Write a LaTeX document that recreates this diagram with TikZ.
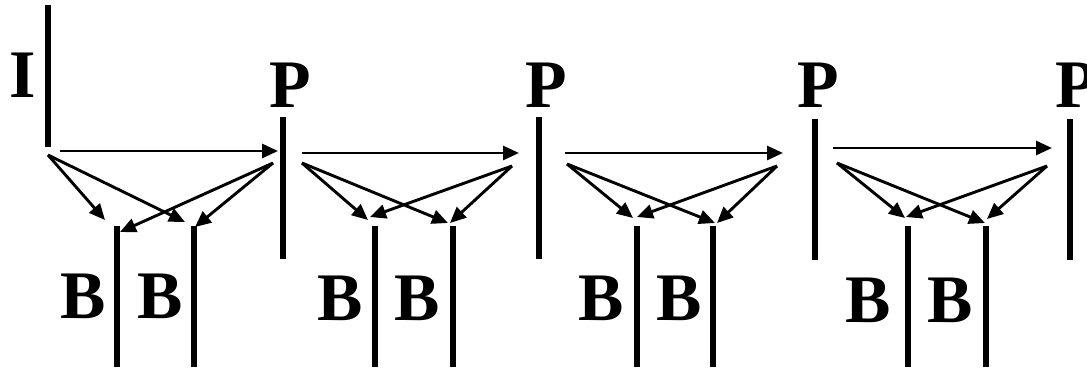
\documentclass[tikz,border=0pt]{standalone}
\usepackage{fontspec}
\setmainfont{Liberation Serif}
\usetikzlibrary{arrows.meta}
\begin{document}
\begin{tikzpicture}[x=1pt,y=-1pt,
  framebar/.style={line width=5.5pt},
  link/.style={line width=2.9pt,-{Triangle[length=16pt,width=14pt]}},
  lbl/.style={font=\fontsize{68}{68}\selectfont\bfseries, inner sep=0pt, anchor=base},
]
\useasboundingbox (0,0) rectangle (1087,370);
% frame bars
\coordinate (It) at (48,5);    \coordinate (Ib) at (48,147);
\coordinate (P1t) at (283,117); \coordinate (P1b) at (283,259);
\coordinate (P2t) at (539,117); \coordinate (P2b) at (539,259);
\coordinate (P3t) at (815,119); \coordinate (P3b) at (815,260);
\coordinate (P4t) at (1070,119); \coordinate (P4b) at (1070,260);
\foreach \n/\x in {B1/117,B2/194,B3/375,B4/453,B5/637,B6/713,B7/908,B8/986}{
  \coordinate (\n t) at (\x,226); \coordinate (\n b) at (\x,367);
}
\foreach \n in {I,P1,P2,P3,P4,B1,B2,B3,B4,B5,B6,B7,B8}{
  \draw[framebar] (\n t) -- (\n b);
}
% labels
\node[lbl] (LI) at (23,97) {I};
\node[lbl] (LP1) at (290,107) {P};
\node[lbl] (LP2) at (546,107) {P};
\node[lbl] (LP3) at (818,107) {P};
\node[lbl] (LP4) at (1076,107) {P};
\node[lbl] (LB1) at (83,318) {B};
\node[lbl] (LB2) at (160,318) {B};
\node[lbl] (LB3) at (340,320) {B};
\node[lbl] (LB4) at (417,320) {B};
\node[lbl] (LB5) at (601,320) {B};
\node[lbl] (LB6) at (679,320) {B};
\node[lbl] (LB7) at (868,322) {B};
\node[lbl] (LB8) at (950,322) {B};
% group 1
\coordinate (g1h) at (60,151);  \coordinate (g1H) at (278,151);
\coordinate (g1s) at (48,155);  \coordinate (g1a) at (105,220); \coordinate (g1b) at (185,222);
\coordinate (g1S) at (273,163); \coordinate (g1c) at (120,232); \coordinate (g1d) at (195,227);
% group 2
\coordinate (g2h) at (302,153); \coordinate (g2H) at (519,153);
\coordinate (g2s) at (302,163); \coordinate (g2a) at (368,220); \coordinate (g2b) at (448,223);
\coordinate (g2S) at (512,166); \coordinate (g2c) at (370,217); \coordinate (g2d) at (450,223);
% group 3
\coordinate (g3h) at (565,153); \coordinate (g3H) at (783,153);
\coordinate (g3s) at (567,164); \coordinate (g3a) at (633,218); \coordinate (g3b) at (715,223);
\coordinate (g3S) at (777,166); \coordinate (g3c) at (637,217); \coordinate (g3d) at (717,223);
% group 4
\coordinate (g4h) at (833,148); \coordinate (g4H) at (1052,148);
\coordinate (g4s) at (837,163); \coordinate (g4a) at (905,218); \coordinate (g4b) at (985,223);
\coordinate (g4S) at (1047,166); \coordinate (g4c) at (906,217); \coordinate (g4d) at (987,219);
\foreach \g in {g1,g2,g3,g4}{
  \draw[link] (\g h) -- (\g H);
  \draw[link] (\g s) -- (\g a);
  \draw[link] (\g s) -- (\g b);
  \draw[link] (\g S) -- (\g c);
  \draw[link] (\g S) -- (\g d);
}
\end{tikzpicture}
\end{document}
